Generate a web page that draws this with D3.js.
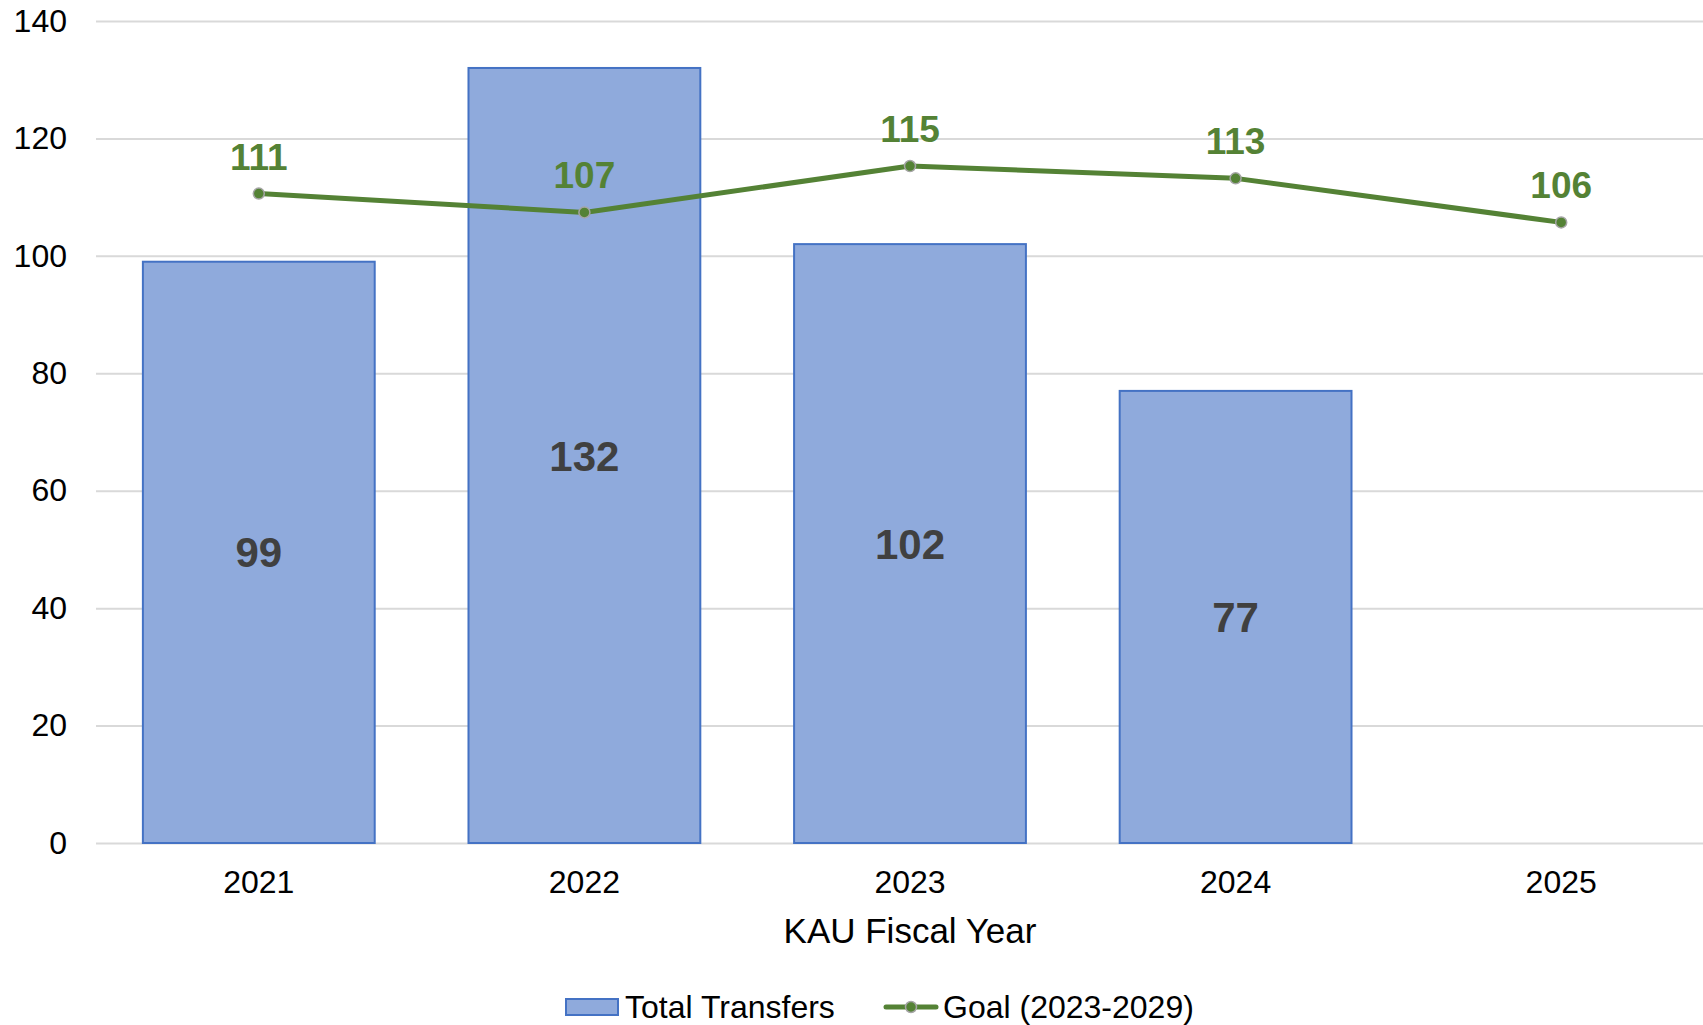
<!DOCTYPE html>
<html>
<head>
<meta charset="utf-8">
<script src="https://cdn.jsdelivr.net/npm/d3@7"></script>
<style>
  body { margin: 0; background: #fff; }
  svg text { font-family: "Liberation Sans", Arial, sans-serif; }
</style>
</head>
<body>
<div id="chart"></div>
<script>
const years = ["2021", "2022", "2023", "2024", "2025"]
const transfers = [99, 132, 102, 77, null]
const goal = [110.6, 107.4, 115.3, 113.2, 105.7]
const yTicks = [0, 20, 40, 60, 80, 100, 120, 140]

const width = 1703
const height = 1025
// the plot area runs past the right edge of the picture, as in the original
const margin = {top: 21, right: -21, bottom: 182, left: 96}

const svg = d3.select("#chart").append("svg")
  .attr("width", width)
  .attr("height", height)
  .attr("viewBox", [0, 0, width, height])

const x = d3.scaleBand()
  .domain(years)
  .range([margin.left, width - margin.right])
  .paddingInner(0.288)
  .paddingOuter(0.144)

const y = d3.scaleLinear()
  .domain([0, 140])
  .range([height - margin.bottom, margin.top])

// grid + y axis
svg.append("g")
  .attr("transform", `translate(${margin.left}, 0)`)
  .call(d3.axisLeft(y).tickValues(yTicks).tickSize(-(width - margin.left - margin.right)).tickPadding(29))
  .call(g => g.select(".domain").remove())
  .call(g => g.selectAll(".tick line").attr("stroke", "#d9d9d9").attr("stroke-width", 2))
  .call(g => g.selectAll(".tick text")
    .attr("font-family", null)
    .attr("font-size", 32)
    .attr("fill", "#000"))

// bars
const barData = years.map((yr, i) => ({year: yr, value: transfers[i]})).filter(d => d.value != null)

svg.append("g").selectAll("rect")
  .data(barData)
  .join("rect")
  .attr("x", d => x(d.year))
  .attr("y", d => y(d.value))
  .attr("width", x.bandwidth())
  .attr("height", d => y(0) - y(d.value))
  .attr("fill", "#8faadc")
  .attr("stroke", "#4472c4")
  .attr("stroke-width", 2)

svg.append("g").selectAll("text")
  .data(barData)
  .join("text")
  .attr("x", d => x(d.year) + x.bandwidth() / 2)
  .attr("y", d => (y(d.value) + y(0)) / 2)
  .attr("dy", "0.36em")
  .attr("text-anchor", "middle")
  .attr("font-size", 42)
  .attr("font-weight", "bold")
  .attr("fill", "#404040")
  .text(d => d.value)

// goal line
const goalData = years.map((yr, i) => ({year: yr, value: goal[i]}))
const cx = d => x(d.year) + x.bandwidth() / 2

svg.append("path")
  .datum(goalData)
  .attr("fill", "none")
  .attr("stroke", "#548235")
  .attr("stroke-width", 5)
  .attr("stroke-linejoin", "round")
  .attr("d", d3.line().x(cx).y(d => y(d.value)))

svg.append("g").selectAll("circle")
  .data(goalData)
  .join("circle")
  .attr("cx", cx)
  .attr("cy", d => y(d.value))
  .attr("r", 5.5)
  .attr("fill", "#548235")
  .attr("stroke", "#a5a5a5")
  .attr("stroke-width", 1.5)

svg.append("g").selectAll("text")
  .data(goalData)
  .join("text")
  .attr("x", cx)
  .attr("y", d => y(d.value) - 24)
  .attr("text-anchor", "middle")
  .attr("font-size", 37)
  .attr("font-weight", "bold")
  .attr("fill", "#548235")
  .text(d => d3.format(".0f")(d.value))

// x axis
svg.append("g")
  .attr("transform", `translate(0, ${y(0)})`)
  .call(d3.axisBottom(x).tickSize(0).tickPadding(27))
  .call(g => g.select(".domain").remove())
  .call(g => g.selectAll(".tick text")
    .attr("font-family", null)
    .attr("font-size", 32)
    .attr("fill", "#000"))

svg.append("text")
  .attr("x", x("2023") + x.bandwidth() / 2)
  .attr("y", 943)
  .attr("text-anchor", "middle")
  .attr("font-size", 35)
  .attr("fill", "#000")
  .text("KAU Fiscal Year")

// legend
const legend = svg.append("g")
legend.append("rect")
  .attr("x", 566).attr("y", 999)
  .attr("width", 52).attr("height", 16)
  .attr("fill", "#8faadc").attr("stroke", "#4472c4").attr("stroke-width", 2)
legend.append("text")
  .attr("x", 625).attr("y", 1018)
  .attr("font-size", 32).attr("fill", "#000")
  .text("Total Transfers")
legend.append("line")
  .attr("x1", 886).attr("x2", 936).attr("y1", 1007).attr("y2", 1007)
  .attr("stroke", "#548235").attr("stroke-width", 5).attr("stroke-linecap", "round")
legend.append("circle")
  .attr("cx", 911).attr("cy", 1007).attr("r", 5.5)
  .attr("fill", "#548235").attr("stroke", "#a5a5a5").attr("stroke-width", 1.5)
legend.append("text")
  .attr("x", 943).attr("y", 1018)
  .attr("font-size", 32).attr("fill", "#000")
  .text("Goal (2023-2029)")
</script>
</body>
</html>
